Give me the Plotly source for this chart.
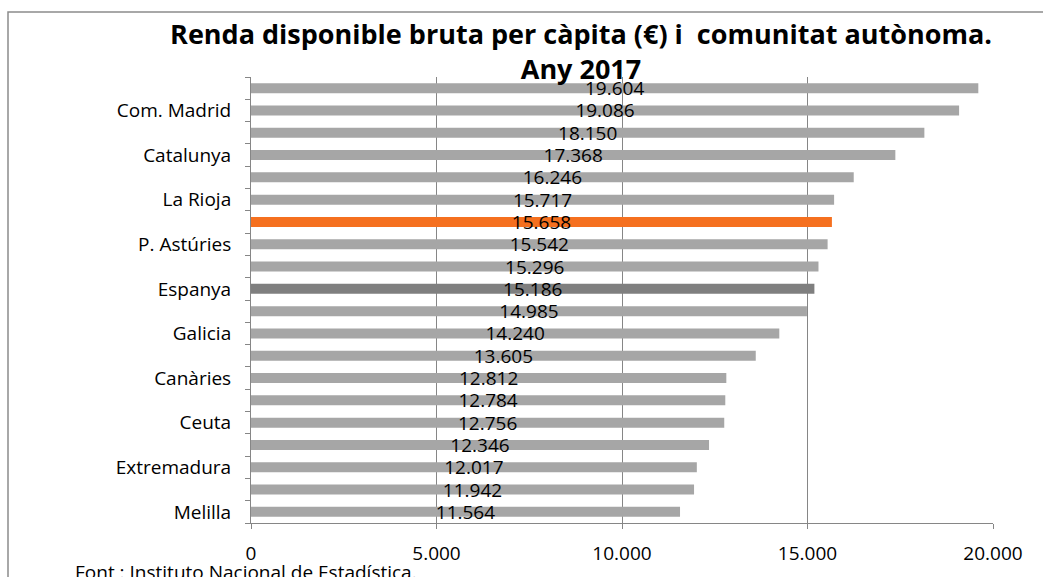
import plotly.graph_objects as go

# Data (bottom to top)
regions = [
    "Melilla", "Andalusia", "Extremadura", "Castella-La Manxa", "Ceuta",
    "Múrcia", "Canàries", "C. Valenciana", "Galicia", "Cantàbria",
    "Espanya", "Castella i Lleó", "P. Astúries", "Illes Balears", "La Rioja",
    "Aragó", "Catalunya", "Navarra", "Com. Madrid", "País Basc",
]
income = [
    11564, 11942, 12017, 12346, 12756,
    12784, 12812, 13605, 14240, 14985,
    15186, 15296, 15542, 15658, 15717,
    16246, 17368, 18150, 19086, 19604,
]
shown_labels = [
    "Melilla", "Extremadura", "Ceuta", "Canàries", "Galicia",
    "Espanya", "P. Astúries", "La Rioja", "Catalunya", "Com. Madrid",
]
highlight = {"Illes Balears": "#F5701F", "Espanya": "#7F7F7F"}

colors = [highlight.get(r, "#A6A6A6") for r in regions]
ticktext = [r if r in shown_labels else "" for r in regions]

font = "Open Sans, Noto Sans, sans-serif"
grid = "#868686"

fig = go.Figure()
fig.add_trace(go.Bar(
    y=regions,
    x=income,
    orientation="h",
    marker=dict(color=colors, line=dict(width=0)),
    width=0.45,
    texttemplate="%{x:,.0f}",
    textposition="inside",
    insidetextanchor="middle",
    constraintext="none",
    textfont=dict(family=font, size=19, color="black"),
    cliponaxis=False,
    hoverinfo="skip",
))

fig.update_layout(
    width=1043,
    height=577,
    margin=dict(l=251, r=50, t=77, b=54),
    paper_bgcolor="white",
    plot_bgcolor="white",
    separators=",.",
    showlegend=False,
    font=dict(family=font, size=19, color="black"),
    title=dict(
        text="Renda disponible bruta per càpita (€) i  comunitat autònoma.<br>Any 2017",
        font=dict(family=font, size=27, color="black", weight="bold"),
        x=581 / 1043,
        xanchor="center",
        xref="container",
        y=1 - 44 / 577,
        yanchor="top",
        yref="container",
    ),
    xaxis=dict(
        range=[0, 20000],
        tickvals=[0, 5000, 10000, 15000, 20000],
        tickformat=",.0f",
        showgrid=True,
        gridcolor=grid,
        gridwidth=1,
        zeroline=False,
        showline=True,
        linecolor=grid,
        linewidth=1,
        ticks="outside",
        ticklen=5,
        tickcolor=grid,
        ticklabelstandoff=8,
        tickfont=dict(family=font, size=19, color="black"),
        fixedrange=True,
    ),
    yaxis=dict(
        type="category",
        categoryorder="array",
        categoryarray=regions,
        tickmode="array",
        tickvals=regions,
        ticktext=ticktext,
        tickson="boundaries",
        ticks="outside",
        ticklen=5,
        tickcolor=grid,
        ticklabelstandoff=15,
        showline=True,
        linecolor=grid,
        linewidth=1,
        showgrid=False,
        tickfont=dict(family=font, size=19, color="black"),
        fixedrange=True,
    ),
    shapes=[
        dict(
            type="rect", xref="paper", yref="paper",
            x0=(8 - 251) / 742, x1=(1060 - 251) / 742,
            y0=(523 - 600) / 446, y1=(523 - 12) / 446,
            line=dict(color="#8C8C8C", width=1.5),
            fillcolor="rgba(0,0,0,0)",
            layer="below",
        ),
    ],
    annotations=[
        dict(
            text="Font : Instituto Nacional de Estadística.",
            xref="paper", yref="paper",
            x=(73 - 251) / 742, y=(523 - 557) / 446,
            xanchor="left", yanchor="top",
            showarrow=False,
            font=dict(family=font, size=19, color="black"),
        ),
    ],
)

fig.write_html(
    "out.html",
    config={"displayModeBar": False},
    post_script="document.body.style.margin='0';document.body.style.overflow='hidden';",
)
